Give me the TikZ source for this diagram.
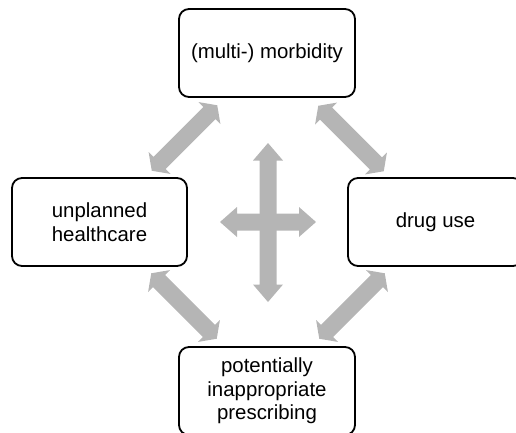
\documentclass[tikz,border=0pt]{standalone}
\usepackage{fontspec}
\setmainfont{Liberation Sans}
\definecolor{arrowgrey}{RGB}{181,181,181}

% double-headed block arrow: centre x, centre y, angle, half length, head length, head half width
\newcommand\blockarrow[6]{%
  \fill[arrowgrey, shift={(#1,#2)}, rotate=#3]
    (-#4,0) -- (-#4+#5,#6) -- (-#4+#5,8.5) -- (#4-#5,8.5) -- (#4-#5,#6)
    -- (#4,0) -- (#4-#5,-#6) -- (#4-#5,-8.5) -- (-#4+#5,-8.5) -- (-#4+#5,-#6) -- cycle;}

\begin{document}
\begin{tikzpicture}[x=1pt, y=-1pt,
  box/.style={draw=black, line width=1.8pt, rounded corners=10pt, fill=white,
    minimum width=176pt, minimum height=88pt, inner sep=0pt, align=center,
    font=\fontsize{20.4}{23.5}\selectfont}]
  \useasboundingbox (0,0) rectangle (516,432);

  % the four boxes
  \node[box] (morb)  at (267,53)    {(multi-) morbidity};
  \node[box, minimum width=175pt] (care)  at (99.5,222)  {unplanned\\healthcare};
  \node[box, minimum width=175pt] (drug)  at (435.5,222) {drug use};
  \node[box] (presc) at (267,391)   {potentially\\inappropriate\\prescribing};

  % arrows between neighbouring boxes
  \blockarrow{184.5}{138}{45}{46.3}{11}{15.5}
  \blockarrow{351}{138.5}{-45}{46.3}{11}{15.5}
  \blockarrow{184}{306}{-45}{46.3}{11}{15.5}
  \blockarrow{352}{306}{45}{46.3}{11}{15.5}

  % central cross
  \blockarrow{268}{222.5}{90}{79.5}{17.5}{15}
  \blockarrow{268}{222}{0}{48}{17}{15}
\end{tikzpicture}
\end{document}
